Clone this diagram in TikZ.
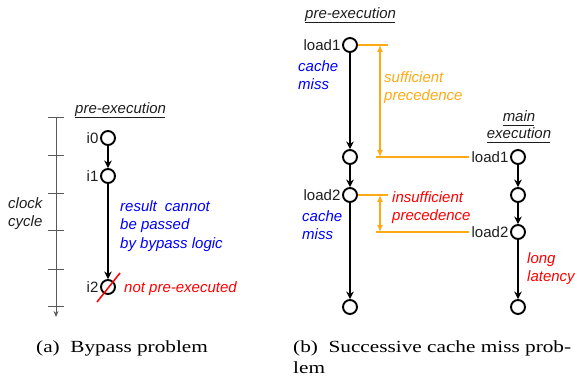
\documentclass[tikz,border=0pt]{standalone}
\usepackage{fontspec}
\setmainfont{Liberation Sans}
\newfontfamily\capfont[FakeStretch=1.25]{Liberation Serif}
\usetikzlibrary{arrows.meta,calc}
\definecolor{ora}{RGB}{255,170,20}
\definecolor{txt}{RGB}{30,30,30}
\definecolor{axisgray}{RGB}{90,90,90}
\begin{document}
\begin{tikzpicture}[x=1pt,y=-1pt,
  st/.style={circle,draw=black,line width=1.9pt,minimum size=14pt,inner sep=0pt},
  flow/.style={draw=black,line width=1.8pt,-{Stealth[length=7.5pt,width=7.5pt]}},
  lbl/.style={font=\fontsize{15}{18}\selectfont,text=txt,inner sep=0pt},
  itl/.style={font=\fontsize{15}{18}\selectfont\itshape,inner sep=0pt,anchor=base west},
  blu/.style={itl,text=blue},
  rd/.style={itl,text=red},
  org/.style={itl,text=ora},
  gr/.style={itl,text=txt},
  uline/.style={draw=txt,line width=0.9pt},
  oline/.style={draw=ora,line width=1.3pt},
  oarr/.style={oline,{Latex[length=7pt,width=6pt]}-{Latex[length=7pt,width=6pt]}},
  axisline/.style={draw=axisgray,line width=1pt},
  captxt/.style={font=\capfont\fontsize{17}{21}\selectfont,inner sep=0pt,anchor=base west}]
\useasboundingbox (0,0) rectangle (575,379);

% ---------------- (a) ----------------
\draw[axisline,-{Stealth[length=6pt,width=5pt]}] (56,118) -- (56,317);
\foreach \yy in {118,156,194,231,269,306} \draw[axisline] (48,\yy) -- (64,\yy);
\node[gr] (clk1) at (8,209) {clock};
\node[gr] (clk2) at (8,227) {cycle};

\node[itl,text=txt] (pre1) at (75,114) {pre-execution};
\draw[uline] ($(pre1.base west)+(0,3)$) -- ($(pre1.base east)+(-1,3)$);

\node[st] (i0) at (108,138) {};
\node[st] (i1) at (108,176) {};
\node[st] (i2) at (108,287) {};
\node[lbl,anchor=east] (i0l) at ($(i0.west)+(-1.5,0)$) {i0};
\node[lbl,anchor=east] (i1l) at ($(i1.west)+(-1.5,0)$) {i1};
\node[lbl,anchor=east] (i2l) at ($(i2.west)+(-1.5,0)$) {i2};
\draw[flow] (i0) -- (i1);
\draw[flow] (i1) -- (i2);
\draw[red,line width=1.5pt] ($(i2)+(-11,15)$) -- ($(i2)+(12,-14)$);

\node[blu] (r1) at (120,212) {result\hspace{8pt}cannot};
\node[blu] (r2) at (120,230) {be passed};
\node[blu] (r3) at (120,248) {by bypass logic};
\node[rd] (npe) at (124,292) {not pre-executed};

\node[captxt] (capa) at (36,352) {(a)\ \ Bypass problem};

% ---------------- (b) ----------------
\node[itl,text=txt] (pre2) at (305,19) {pre-execution};
\draw[uline] ($(pre2.base west)+(0,3)$) -- ($(pre2.base east)+(-1,3)$);
\node[itl,text=txt,anchor=base] (me1) at (519,122) {main};
\draw[uline] ($(me1.base west)+(0,3)$) -- ($(me1.base east)+(-1,3)$);
\node[itl,text=txt,anchor=base] (me2) at (519,139) {execution};
\draw[uline] ($(me2.base west)+(0,3)$) -- ($(me2.base east)+(-1,3)$);

\node[st] (a1) at (350,45) {};
\node[st] (a2) at (350,157) {};
\node[st] (a3) at (350,195) {};
\node[st] (a4) at (350,307) {};
\node[lbl,anchor=east] (a1l) at ($(a1.west)+(-1.5,0)$) {load1};
\node[lbl,anchor=east] (a3l) at ($(a3.west)+(-1.5,0)$) {load2};
\draw[flow] (a1) -- (a2);
\draw[flow] (a2) -- (a3);
\draw[flow] (a3) -- (a4);

\node[st] (b1) at (518,157) {};
\node[st] (b2) at (518,195) {};
\node[st] (b3) at (518,232) {};
\node[st] (b4) at (518,307) {};
\node[lbl,anchor=east] (b1l) at ($(b1.west)+(-1.5,0)$) {load1};
\node[lbl,anchor=east] (b3l) at ($(b3.west)+(-1.5,0)$) {load2};
\draw[flow] (b1) -- (b2);
\draw[flow] (b2) -- (b3);
\draw[flow] (b3) -- (b4);

\node[blu] (cm1) at (298,72) {cache};
\node[blu] (cm2) at (298,90) {miss};
\node[blu] (cm3) at (302,222) {cache};
\node[blu] (cm4) at (302,240) {miss};

% sufficient precedence
\coordinate (s1e) at (388,45);
\coordinate (s1t) at (380,45);
\coordinate (s1s) at (376,157);
\coordinate (s1b) at (380,157);
\draw[oline] (a1.east) -- (s1e);
\draw[oline] (s1s) -- ($(b1l.west)+(-2,0)$);
\draw[oarr] (s1t) -- (s1b);
\node[org] (sp1) at (384,83) {sufficient};
\node[org] (sp2) at (384,101) {precedence};

% insufficient precedence
\coordinate (s2e) at (388,195);
\coordinate (s2t) at (380,195);
\coordinate (s2s) at (376,232);
\coordinate (s2b) at (380,232);
\draw[oline] (a3.east) -- (s2e);
\draw[oline] (s2s) -- ($(b3l.west)+(-2,0)$);
\draw[oarr] (s2t) -- (s2b);
\node[rd] (ip1) at (392,203) {insufficient};
\node[rd] (ip2) at (392,221) {precedence};

\node[rd] (ll1) at (527,263) {long};
\node[rd] (ll2) at (527,281) {latency};

\node[captxt] (capb1) at (293,352) {(b)\ \ Successive cache miss prob-};
\node[captxt] (capb2) at (293,373) {lem};
\end{tikzpicture}
\end{document}
